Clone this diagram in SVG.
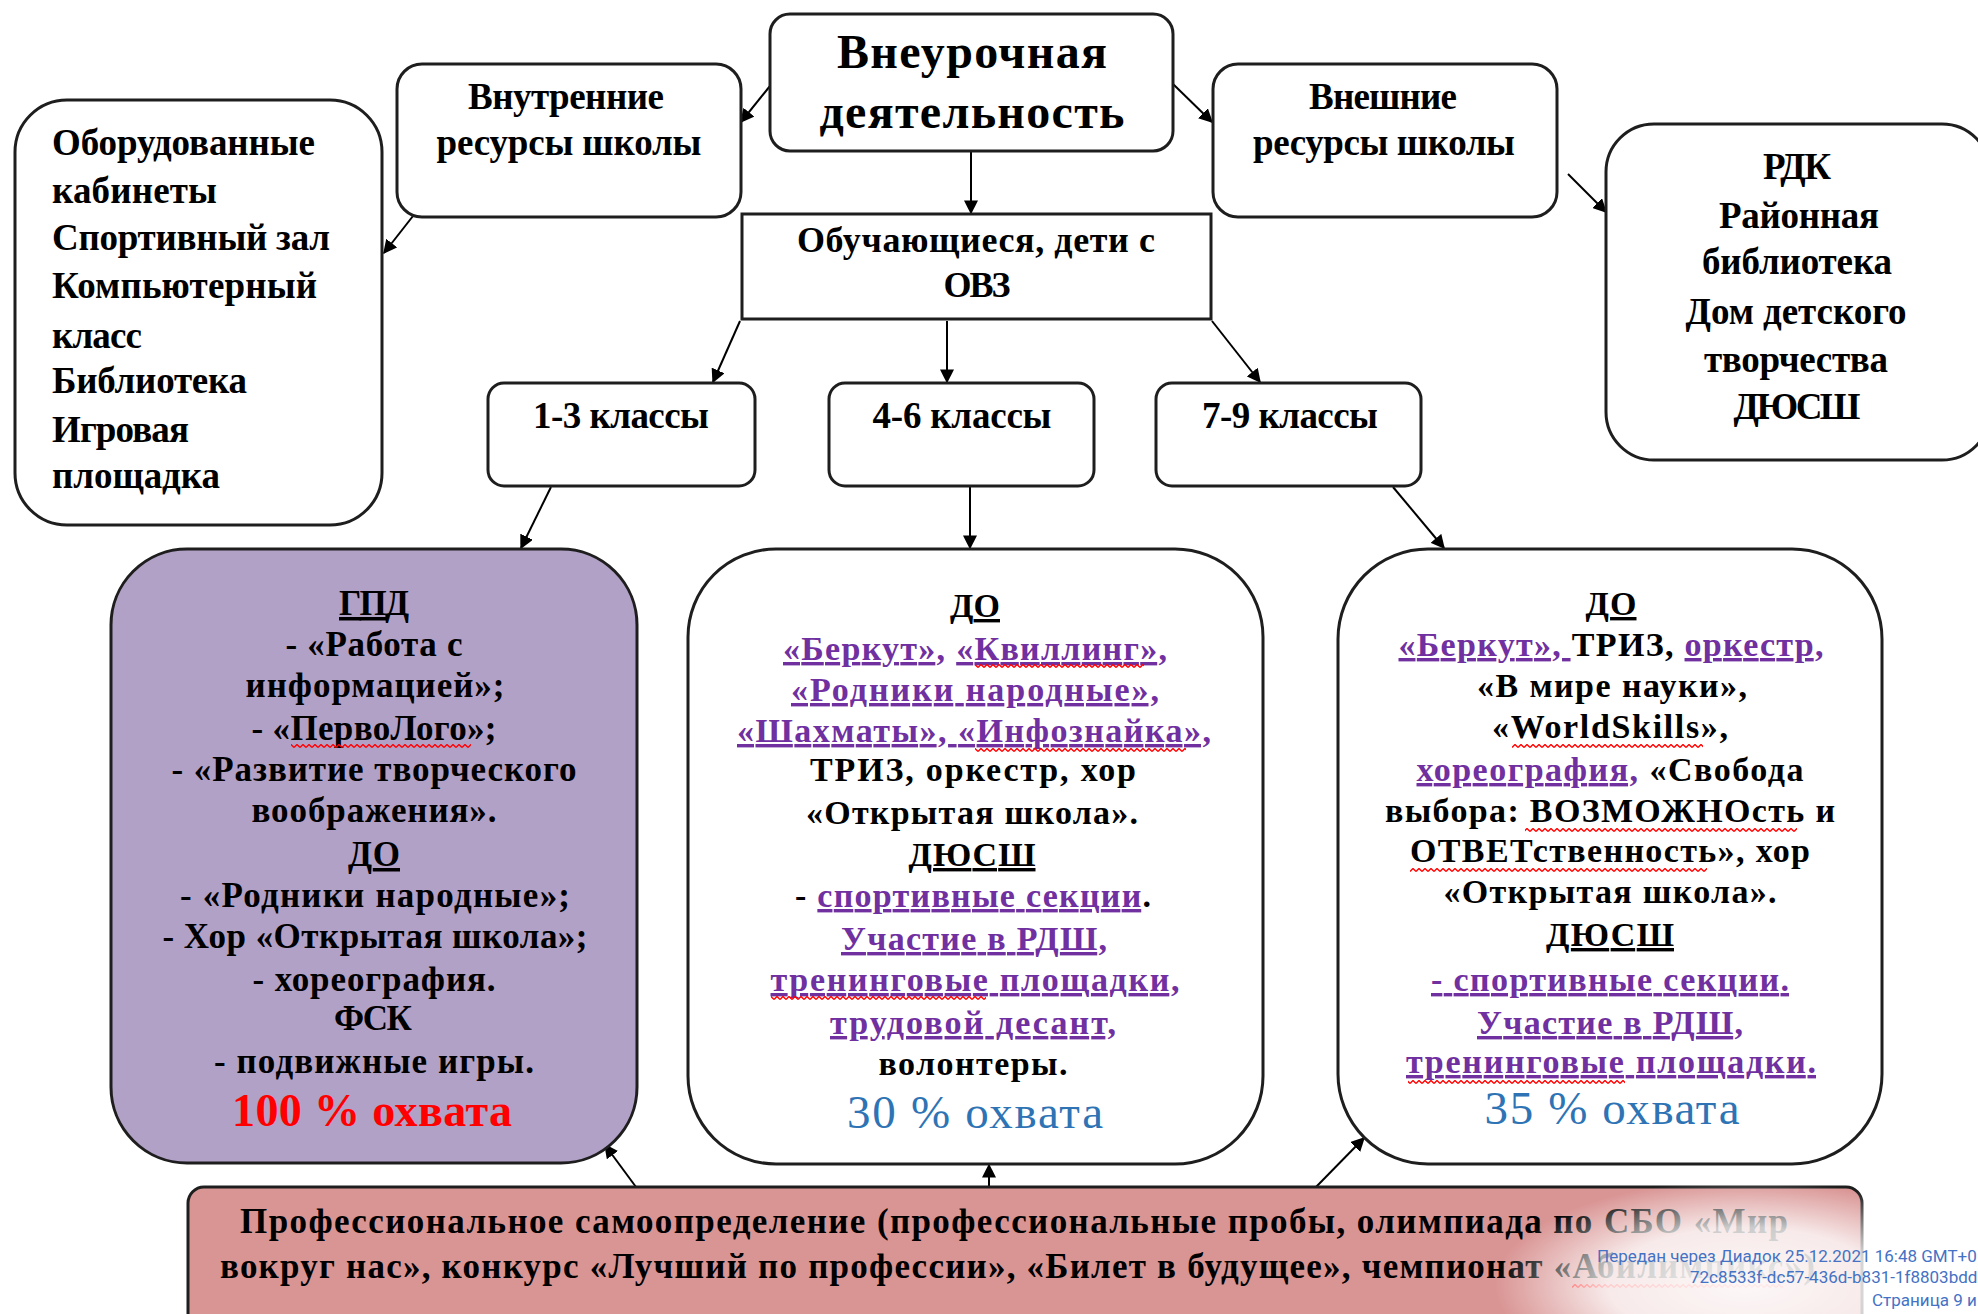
<svg xmlns="http://www.w3.org/2000/svg" width="1978" height="1314" viewBox="0 0 1978 1314">
<style>
.box{fill:#fff;stroke:#1e1e1e;stroke-width:3}
.t{font-family:"Liberation Serif","DejaVu Serif",serif;font-weight:bold;fill:#000}
.c{text-anchor:middle}
.s37{font-size:37px}
.s35{font-size:35px}
.s34{font-size:34px}
.p{fill:#7030A0}
.u{text-decoration:underline}
.con{stroke:#000;stroke-width:2;fill:none;marker-end:url(#ah)}
.wm{font-family:Roboto,"Noto Sans",sans-serif;font-size:17px;fill:#4472C4}
</style>
<defs>
<marker id="ah" viewBox="0 0 10 10" refX="9" refY="5" markerWidth="7" markerHeight="7" orient="auto" markerUnits="strokeWidth">
<path d="M0,0 L10,5 L0,10 z" fill="#000"/>
</marker>
<pattern id="wv" x="0" y="0" width="6" height="4" patternUnits="userSpaceOnUse">
<path d="M0,3.5 L3,0.5 L6,3.5" stroke="#f00" stroke-width="1.4" fill="none"/>
</pattern>
<radialGradient id="glow" cx="0.5" cy="0.5" r="0.5">
<stop offset="0" stop-color="#fff" stop-opacity="0.93"/>
<stop offset="0.55" stop-color="#fff" stop-opacity="0.8"/>
<stop offset="1" stop-color="#fff" stop-opacity="0"/>
</radialGradient>
</defs>

<g id="connectors">
<path class="con" d="M770,86 L741,122"/>
<path class="con" d="M1173,84 L1212,122"/>
<path class="con" d="M971,151 L971,213"/>
<path class="con" d="M413,216 L384,253"/>
<path class="con" d="M1568,174 L1606,212"/>
<path class="con" d="M740,321 L713,382"/>
<path class="con" d="M947,321 L947,382"/>
<path class="con" d="M1212,321 L1260,382"/>
<path class="con" d="M551,487 L521,548"/>
<path class="con" d="M970,487 L970,548"/>
<path class="con" d="M1393,487 L1444,548"/>
<path class="con" d="M636,1187 L605,1145"/>
<path class="con" d="M989,1187 L989,1165"/>
<path class="con" d="M1316,1187 L1364,1138"/>
</g>

<g id="n-vneurochnaya">
<rect class="box" x="770" y="14" width="403" height="137" rx="20"/>
<text class="t c" font-size="48" x="972" y="68" textLength="270">Внеурочная</text>
<text class="t c" font-size="48" x="972" y="128" textLength="305">деятельность</text>
</g>

<g id="n-vnutrennie">
<rect class="box" x="397" y="64" width="344" height="153" rx="25"/>
<text class="t c s37" x="566" y="109" textLength="196">Внутренние</text>
<text class="t c s37" x="569" y="155" textLength="265">ресурсы школы</text>
</g>

<g id="n-vneshnie">
<rect class="box" x="1213" y="64" width="344" height="153" rx="25"/>
<text class="t c s37" x="1383" y="109" textLength="148">Внешние</text>
<text class="t c s37" x="1384" y="155" textLength="262">ресурсы школы</text>
</g>

<g id="n-oborud">
<rect class="box" x="15" y="100" width="367" height="425" rx="52"/>
<text class="t s37" x="52" y="155" textLength="263">Оборудованные</text>
<text class="t s37" x="52" y="203" textLength="165">кабинеты</text>
<text class="t s37" x="52" y="250" textLength="278">Спортивный зал</text>
<text class="t s37" x="52" y="298" textLength="265">Компьютерный</text>
<text class="t s37" x="52" y="348" textLength="90">класс</text>
<text class="t s37" x="52" y="393" textLength="195">Библиотека</text>
<text class="t s37" x="52" y="442" textLength="137">Игровая</text>
<text class="t s37" x="52" y="488" textLength="168">площадка</text>
</g>

<g id="n-rdk">
<rect class="box" x="1606" y="124" width="384" height="336" rx="48"/>
<text class="t c s37" x="1797" y="179" textLength="68">РДК</text>
<text class="t c s37" x="1799" y="228" textLength="160">Районная</text>
<text class="t c s37" x="1797" y="274" textLength="190">библиотека</text>
<text class="t c s37" x="1796" y="324" textLength="221">Дом детского</text>
<text class="t c s37" x="1796" y="372" textLength="184">творчества</text>
<text class="t c s37" x="1797" y="419" textLength="127">ДЮСШ</text>
</g>

<g id="n-obuch">
<rect class="box" x="742" y="214" width="469" height="105"/>
<text class="t c" font-size="36" x="976" y="252" textLength="358">Обучающиеся, дети с</text>
<text class="t c" font-size="36" x="977" y="297" textLength="67">ОВЗ</text>
</g>

<g id="n-k13">
<rect class="box" x="488" y="383" width="267" height="103" rx="16"/>
<text class="t c s37" x="621" y="428" textLength="176">1-3 классы</text>
</g>
<g id="n-k46">
<rect class="box" x="829" y="383" width="265" height="103" rx="16"/>
<text class="t c s37" x="962" y="428" textLength="179">4-6 классы</text>
</g>
<g id="n-k79">
<rect class="box" x="1156" y="383" width="265" height="103" rx="16"/>
<text class="t c s37" x="1290" y="428" textLength="176">7-9 классы</text>
</g>

<g id="n-gpd">
<rect x="111" y="549" width="526" height="614" rx="76" fill="#B2A1C7" stroke="#1e1e1e" stroke-width="3"/>
<text class="t c s35" x="374" y="615" textLength="70"><tspan class="u">ГПД</tspan></text>
<text class="t c s35" x="374" y="656" textLength="177">- «Работа с</text>
<text class="t c s35" x="375" y="697" textLength="259">информацией»;</text>
<text class="t c s35" x="374" y="740" textLength="245">- «ПервоЛого»;</text>
<rect x="291" y="744" width="180" height="4" fill="url(#wv)"/>
<text class="t c s35" x="374" y="781" textLength="405">- «Развитие творческого</text>
<text class="t c s35" x="374" y="822" textLength="245">воображения».</text>
<text class="t c s35" x="374" y="866" textLength="52"><tspan class="u">ДО</tspan></text>
<text class="t c s35" x="375" y="907" textLength="390">- «Родники народные»;</text>
<text class="t c s35" x="375" y="948" textLength="425">- Хор «Открытая школа»;</text>
<text class="t c s35" x="374" y="991" textLength="243">- хореография.</text>
<text class="t c s35" x="373" y="1030" textLength="78">ФСК</text>
<text class="t c s35" x="374" y="1073" textLength="320">- подвижные  игры.</text>
<text class="t c" font-size="46" x="372" y="1126" textLength="280" style="fill:#FF0000">100 % охвата</text>
</g>

<g id="n-do46">
<rect class="box" x="688" y="549" width="575" height="615" rx="88"/>
<text class="t c s34" x="975" y="617" textLength="50"><tspan class="u">ДО</tspan></text>
<text class="t c s34" x="975" y="660" textLength="384"><tspan class="p u">«Беркут»,</tspan> <tspan class="p u">«Квиллинг»,</tspan></text>
<rect x="975" y="664" width="169" height="4" fill="url(#wv)"/>
<text class="t c s34" x="975" y="701" textLength="368"><tspan class="p u">«Родники народные»,</tspan></text>
<text class="t c s34" x="974" y="742" textLength="474"><tspan class="p u">«Шахматы», «Инфознайка»,</tspan></text>
<rect x="975" y="748" width="211" height="4" fill="url(#wv)"/>
<text class="t c s34" x="973" y="781" textLength="326">ТРИЗ, оркестр,  хор</text>
<text class="t c s34" x="972" y="824" textLength="332">«Открытая школа».</text>
<text class="t c s34" x="972" y="866" textLength="127"><tspan class="u">ДЮСШ</tspan></text>
<text class="t c s34" x="973" y="907" textLength="356">- <tspan class="p u">спортивные  секции</tspan>.</text>
<text class="t c s34" x="974" y="950" textLength="266"><tspan class="p u">Участие в РДШ,</tspan></text>
<text class="t c s34" x="975" y="991" textLength="409"><tspan class="p u">тренинговые площадки,</tspan></text>
<rect x="771" y="996" width="215" height="4" fill="url(#wv)"/>
<text class="t c s34" x="973" y="1034" textLength="286"><tspan class="p u">трудовой десант,</tspan></text>
<text class="t c s34" x="973" y="1075" textLength="189">волонтеры.</text>
<text class="c" font-family="Liberation Serif, serif" font-size="47" x="975" y="1128" textLength="256" fill="#2E74B5">30 % охвата</text>
</g>

<g id="n-do79">
<rect class="box" x="1338" y="549" width="544" height="615" rx="90"/>
<text class="t c s34" x="1611" y="615" textLength="51"><tspan class="u">ДО</tspan></text>
<text class="t c s34" x="1611" y="656" textLength="425"><tspan class="p u">«Беркут», </tspan>ТРИЗ, <tspan class="p u">оркестр,</tspan></text>
<text class="t c s34" x="1612" y="697" textLength="270">«В мире науки»,</text>
<text class="t c s34" x="1610" y="738" textLength="236">«WorldSkills»,</text>
<rect x="1512" y="744" width="191" height="4" fill="url(#wv)"/>
<text class="t c s34" x="1610" y="781" textLength="387"><tspan class="p u">хореография,</tspan> «Свобода</text>
<text class="t c s34" x="1610" y="822" textLength="450">выбора: ВОЗМОЖНОсть  и</text>
<rect x="1525" y="828" width="272" height="4" fill="url(#wv)"/>
<text class="t c s34" x="1610" y="862" textLength="400">ОТВЕТственность»,  хор</text>
<rect x="1410" y="868" width="297" height="4" fill="url(#wv)"/>
<text class="t c s34" x="1610" y="903" textLength="333">«Открытая школа».</text>
<text class="t c s34" x="1610" y="946" textLength="128"><tspan class="u">ДЮСШ</tspan></text>
<text class="t c s34" x="1610" y="991" textLength="358"><tspan class="p u">- спортивные  секции.</tspan></text>
<text class="t c s34" x="1610" y="1034" textLength="266"><tspan class="p u">Участие в РДШ,</tspan></text>
<text class="t c s34" x="1611" y="1073" textLength="410"><tspan class="p u">тренинговые площадки.</tspan></text>
<rect x="1408" y="1080" width="217" height="4" fill="url(#wv)"/>
<text class="c" font-family="Liberation Serif, serif" font-size="47" x="1612" y="1124" textLength="255" fill="#2E74B5">35 % охвата</text>
</g>

<g id="n-prof">
<rect x="188" y="1187" width="1674" height="150" rx="16" fill="#D99594" stroke="#1e1e1e" stroke-width="3"/>
<text class="t" font-size="35" x="240" y="1233" textLength="1548">Профессиональное самоопределение (профессиональные пробы, олимпиада по СБО «Мир</text>
<text class="t" font-size="35" x="220" y="1278" textLength="1595">вокруг нас», конкурс «Лучший по профессии», «Билет в будущее», чемпионат «Абилимпикс»)</text>
<rect x="1572" y="1284" width="211" height="4" fill="url(#wv)"/>
</g>

<g id="watermark">
<ellipse cx="1745" cy="1285" rx="250" ry="105" fill="url(#glow)"/>
<text class="wm" x="1597" y="1262">Передан через Диадок 25.12.2021 16:48 GMT+0</text>
<text class="wm" x="1690" y="1283">72c8533f-dc57-436d-b831-1f8803bdd</text>
<text class="wm" x="1872" y="1306">Страница 9 и</text>
</g>
</svg>
